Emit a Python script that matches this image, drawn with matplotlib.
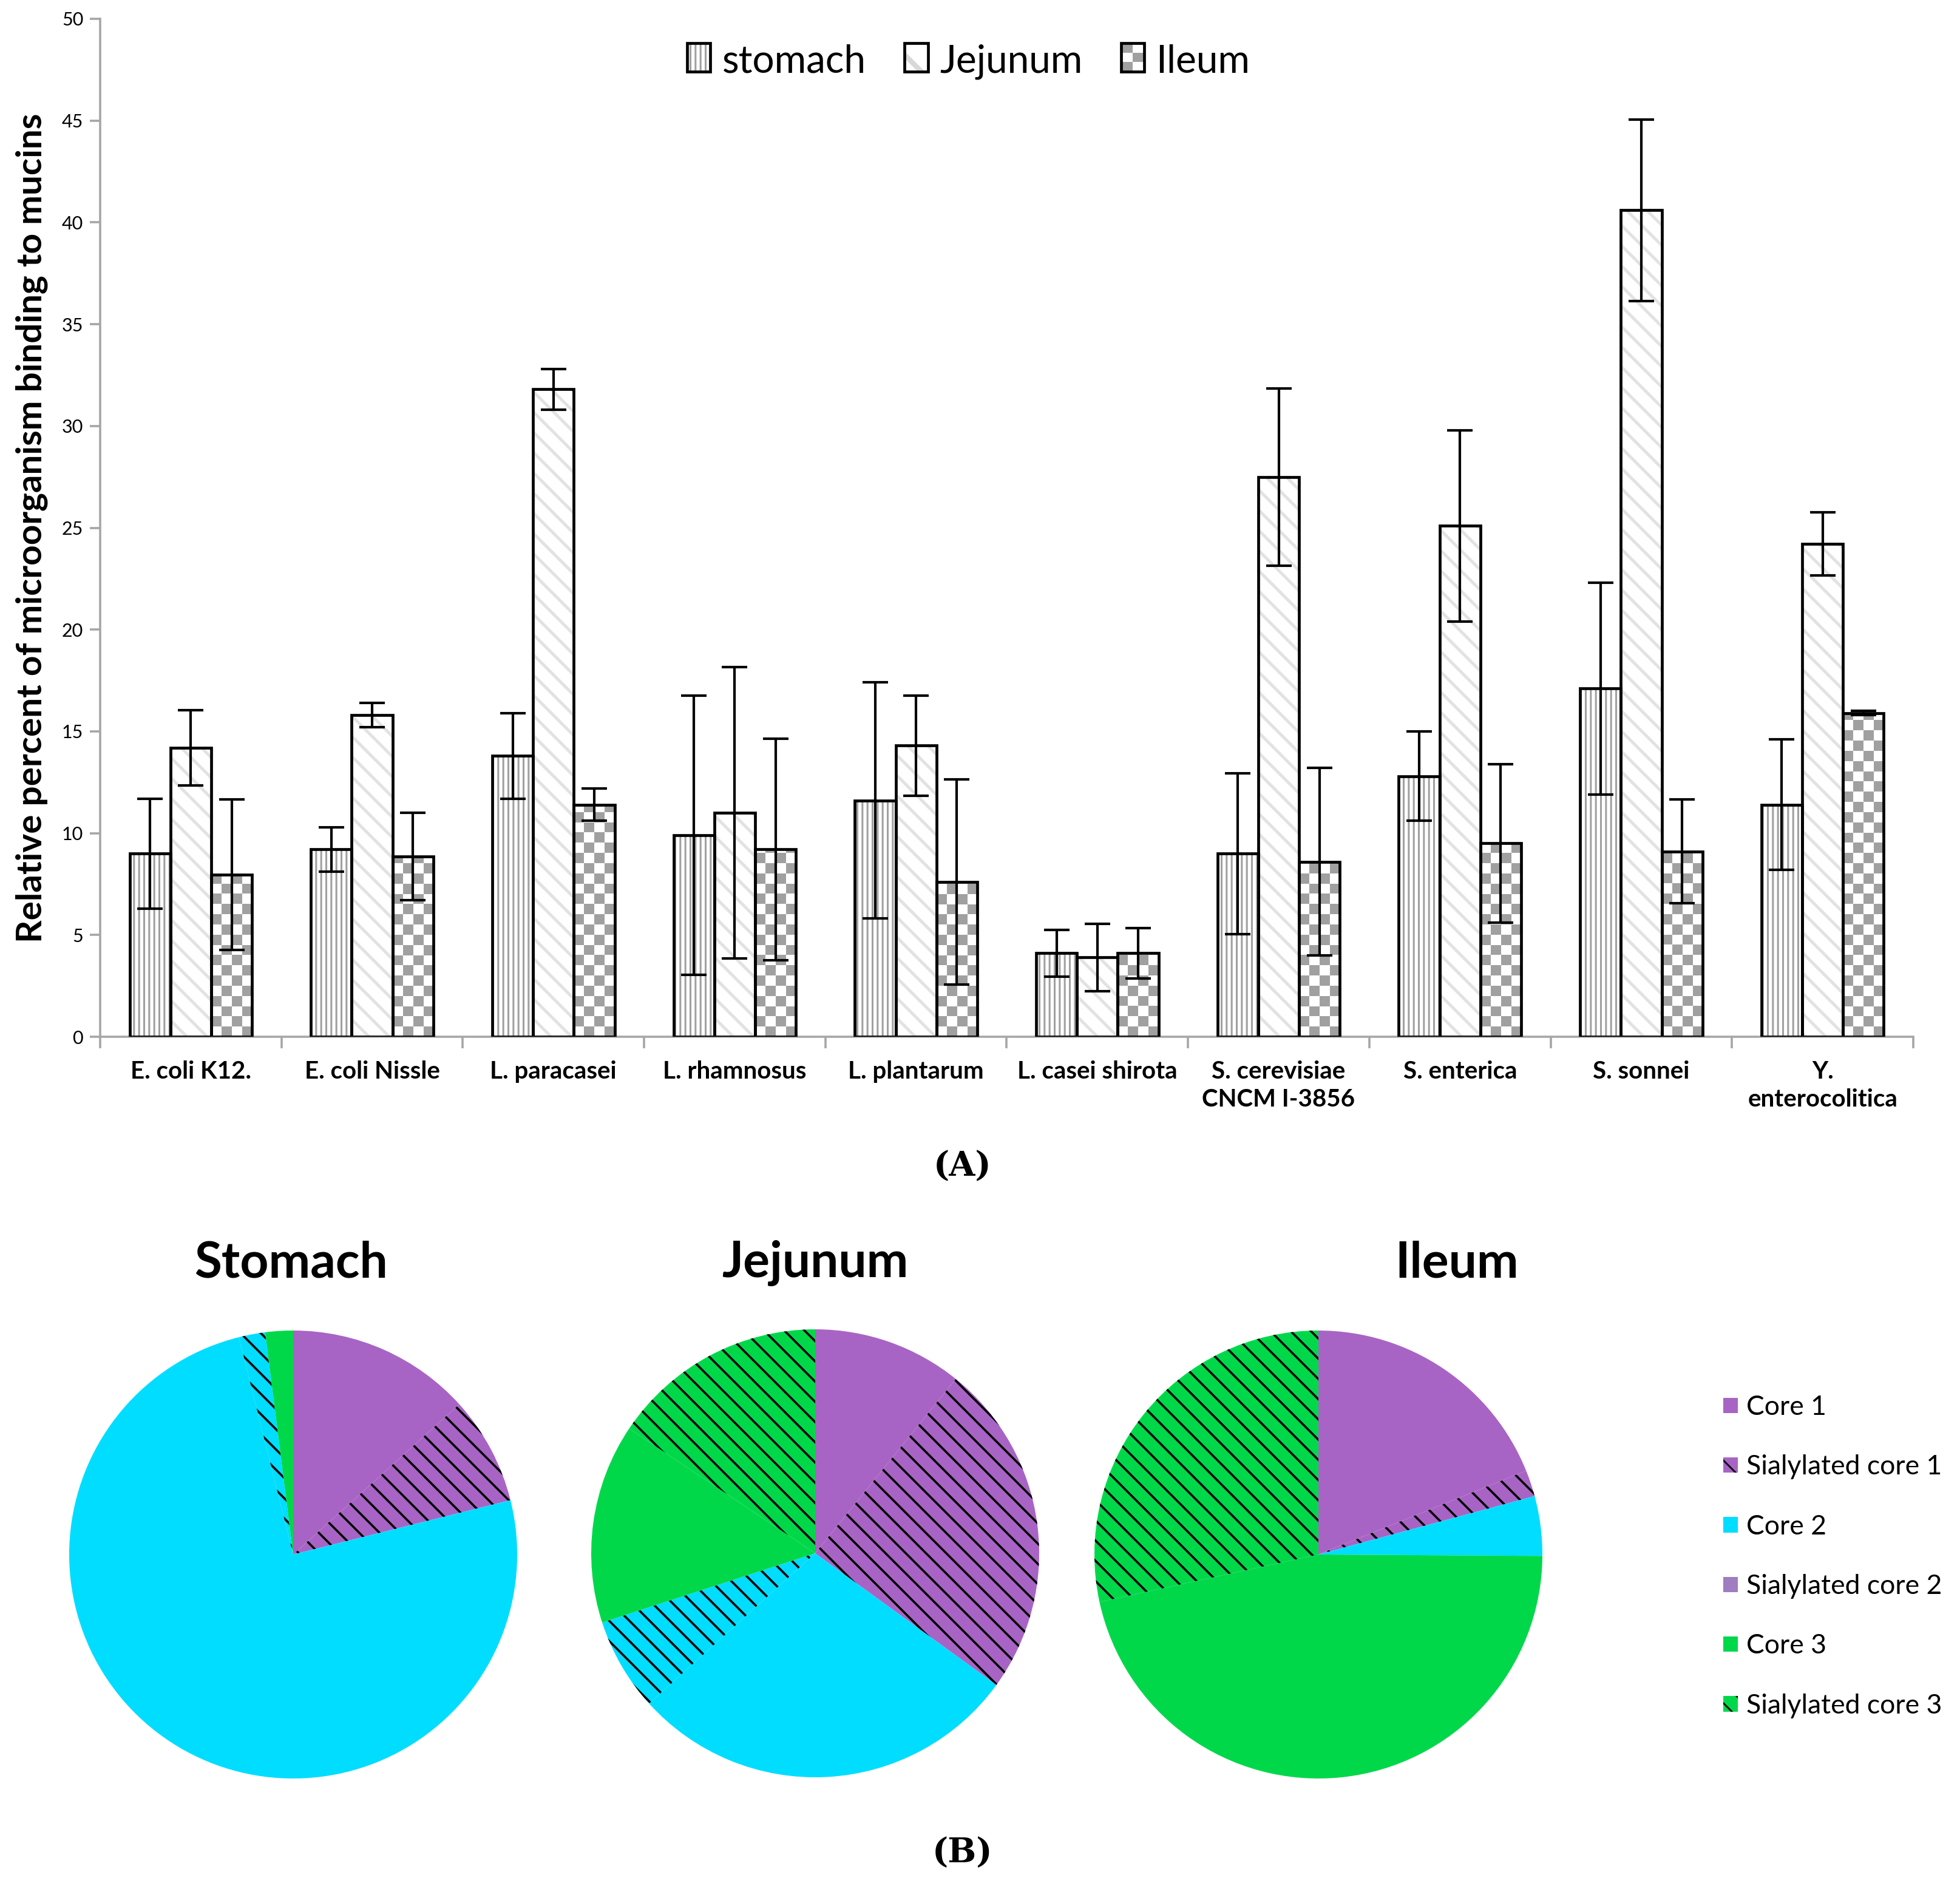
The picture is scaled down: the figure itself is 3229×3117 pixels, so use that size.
import numpy as np
import matplotlib.pyplot as plt
from matplotlib.patches import Patch, Rectangle
from matplotlib.colors import ListedColormap
from matplotlib.legend_handler import HandlerBase

plt.rcParams['font.family'] = ['Lato', 'DejaVu Sans']

# ---- data, panel A
strains = ['E. coli K12.', 'E. coli Nissle', 'L. paracasei', 'L. rhamnosus',
           'L. plantarum', 'L. casei shirota', 'S. cerevisiae\nCNCM I-3856',
           'S. enterica', 'S. sonnei', 'Y.\nenterocolitica']
stomach = [9.0, 9.2, 13.8, 9.9, 11.6, 4.1, 9.0, 12.8, 17.1, 11.4]
stomach_err = [2.7, 1.1, 2.1, 6.85, 5.8, 1.15, 3.95, 2.2, 5.2, 3.2]
jejunum = [14.2, 15.8, 31.8, 11.0, 14.3, 3.9, 27.5, 25.1, 40.6, 24.2]
jejunum_err = [1.85, 0.6, 1.0, 7.15, 2.45, 1.65, 4.35, 4.7, 4.45, 1.55]
ileum = [7.95, 8.85, 11.4, 9.2, 7.6, 4.1, 8.6, 9.5, 9.1, 15.9]
ileum_err = [3.7, 2.15, 0.8, 5.45, 5.05, 1.25, 4.6, 3.9, 2.55, 0.1]
series_names = ['stomach', 'Jejunum', 'Ileum']
yticks = list(range(0, 55, 5))

# ---- data, panel B
core_names = ['Core 1', 'Sialylated core 1', 'Core 2', 'Sialylated core 2',
              'Core 3', 'Sialylated core 3']
tissues = ['Stomach', 'Jejunum', 'Ileum']
stomach_pct = [13.3, 7.8, 75.0, 1.9, 2.0, 0.0]
jejunum_pct = [10.8, 24.2, 28.3, 6.7, 14.4, 15.6]
ileum_pct = [18.9, 1.9, 4.3, 0.0, 46.5, 28.4]

purple = '#a864c4'
cyan = '#00ddff'
green = '#00d84a'
slice_colors = [purple, purple, cyan, cyan, green, green]
slice_hatch = [None, '\\\\', None, '\\\\', None, '\\\\']

W, H = 3230, 3117
fig = plt.figure(figsize=(W / 200, H / 200), dpi=200)

# ================= panel A: bars
ax = fig.add_axes([165 / W, 1 - 1708 / H, (3152 - 165) / W, (1708 - 31) / H])
x = np.arange(len(strains))
bw = 0.225
grey_edge = '#a6a6a6'


def hatch_lw(patches, lw):
    for p in patches:
        if hasattr(p, 'set_hatch_linewidth'):
            p.set_hatch_linewidth(lw)


# stomach: vertical grey lines
with plt.rc_context({'hatch.linewidth': 1.1, 'hatch.color': '#a0a0a0'}):
    b1 = ax.bar(x - bw, stomach, bw, color='white', edgecolor='#a0a0a0',
                linewidth=0, hatch='||||', zorder=2)
hatch_lw(b1, 1.1)
# jejunum: light diagonal lines
with plt.rc_context({'hatch.linewidth': 1.8}):
    b2 = ax.bar(x, jejunum, bw, color='white', edgecolor='#e2e2e2',
                linewidth=0, hatch='\\\\', zorder=2)
hatch_lw(b2, 1.8)
# ileum: checkerboard, drawn as clipped images
b3 = ax.bar(x + bw, ileum, bw, color='white', linewidth=0, zorder=2)

ax.set_xlim(-0.5, len(strains) - 0.5)
ax.set_ylim(0, 50)
ax_h_px = (1708 - 31)
sq = (bw * (3152 - 165) / len(strains) / 4) / (ax_h_px / 50.0)
checker_cmap = ListedColormap(['white', '#a0a0a0'])
for rect in b3:
    h = rect.get_height()
    nrow = int(np.ceil(h / sq))
    arr = (np.add.outer(np.arange(nrow), np.arange(4)) % 2).astype(float)
    x0 = rect.get_x()
    im = ax.imshow(arr, extent=[x0, x0 + bw, 0, nrow * sq], origin='lower',
                   cmap=checker_cmap, vmin=0, vmax=1, interpolation='nearest',
                   aspect='auto', zorder=2.5)
    im.set_clip_path(rect)

# black outlines and error bars
for offs, vals, errs in [(-bw, stomach, stomach_err), (0, jejunum, jejunum_err),
                         (bw, ileum, ileum_err)]:
    ax.bar(x + offs, vals, bw, fill=False, edgecolor='black', linewidth=1.7, zorder=3)
    ax.errorbar(x + offs, vals, yerr=errs, fmt='none', ecolor='black',
                elinewidth=1.5, capsize=7.5, capthick=1.5, zorder=4)

ax.set_xlim(-0.5, len(strains) - 0.5)
ax.set_ylim(0, 50)
ax.set_yticks(yticks)
ax.tick_params(axis='y', labelsize=11, length=6, width=1.3, color=grey_edge, pad=4)
ax.set_xticks(x)
ax.set_xticklabels(strains, fontsize=14.5, fontweight='bold', linespacing=1.3)
ax.tick_params(axis='x', which='major', length=0, pad=14)
ax.set_xticks(np.arange(len(strains) + 1) - 0.5, minor=True)
ax.tick_params(axis='x', which='minor', length=7, width=1.3, color=grey_edge)
for s in ['top', 'right']:
    ax.spines[s].set_visible(False)
for s in ['left', 'bottom']:
    ax.spines[s].set_color(grey_edge)
    ax.spines[s].set_linewidth(1.3)
ax.set_ylabel('Relative percent of microorganism binding to mucins',
              fontsize=21, fontweight='bold', labelpad=8)


class CheckerHandler(HandlerBase):
    def create_artists(self, legend, orig_handle, xd, yd, w, h, fontsize, trans):
        arts = []
        cw, ch = w / 2, h / 3
        for i in range(3):
            for j in range(2):
                fc = '#a0a0a0' if (i + j) % 2 == 0 else 'white'
                arts.append(Rectangle((xd + j * cw, yd + i * ch), cw, ch,
                                      facecolor=fc, edgecolor='none', transform=trans))
        arts.append(Rectangle((xd, yd), w, h, facecolor='none', edgecolor='black',
                              linewidth=1.7, transform=trans))
        return arts


class HatchHandler(HandlerBase):
    def create_artists(self, legend, orig_handle, xd, yd, w, h, fontsize, trans):
        p = Rectangle((xd, yd), w, h, facecolor='white', edgecolor=orig_handle[1],
                      hatch=orig_handle[0], linewidth=0, transform=trans)
        hatch_lw([p], orig_handle[2])
        o = Rectangle((xd, yd), w, h, facecolor='none', edgecolor='black',
                      linewidth=1.7, transform=trans)
        return [p, o]


h_stom = ('||||', '#a0a0a0', 1.1)
h_jej = ('\\', '#d8d8d8', 3.0)
h_ile = 'checker'
ax.legend([h_stom, h_jej, h_ile], series_names, loc='center',
          bbox_to_anchor=(0.479, 0.958), ncol=3, frameon=False, fontsize=23,
          handlelength=0.6, handleheight=0.75, handletextpad=0.3, columnspacing=1.0,
          handler_map={tuple: HatchHandler(), str: CheckerHandler()})

fig.text(1586 / W, 1 - 1922 / H, '(A)', ha='center', va='center', fontsize=20,
         fontweight='bold', family='DejaVu Serif')

# ================= panel B: pies
pie_centers = [(483, 2561), (1343, 2559), (2172, 2561)]
title_x = [480, 1343, 2400]
r = 369
for k, (name, pct) in enumerate(zip(tissues, [stomach_pct, jejunum_pct, ileum_pct])):
    cx, cy = pie_centers[k]
    pax = fig.add_axes([(cx - r) / W, 1 - (cy + r) / H, 2 * r / W, 2 * r / H])
    with plt.rc_context({'hatch.linewidth': 1.3, 'hatch.color': 'black'}):
        wedges, _ = pax.pie(pct, colors=slice_colors, startangle=90,
                            counterclock=False, radius=1)
        for wdg, ht in zip(wedges, slice_hatch):
            if ht:
                wdg.set_hatch(ht)
    hatch_lw([w_ for w_, ht in zip(wedges, slice_hatch) if ht], 1.3)
    pax.set_xlim(-1, 1)
    pax.set_ylim(-1, 1)
    pax.set_position([(cx - r) / W, 1 - (cy + r) / H, 2 * r / W, 2 * r / H])
    fig.text(title_x[k] / W, 1 - 2081 / H, name, ha='center', va='center',
             fontsize=29.5, fontweight='bold')

leg_handles = []
for name, c, ht in zip(core_names, slice_colors, slice_hatch):
    if name == 'Sialylated core 2':
        leg_handles.append(Patch(facecolor='#a07cc0', linewidth=0))
    else:
        leg_handles.append(Patch(facecolor=c, linewidth=0, hatch=ht))
fig.legend(leg_handles, core_names, loc='upper left', bbox_to_anchor=(2839 / W, 1 - 2298 / H),
           frameon=False, fontsize=16, handlelength=0.55, handleheight=0.5,
           handletextpad=0.3, labelspacing=1.29, borderpad=0, borderaxespad=0)

fig.text(1586 / W, 1 - 3053 / H, '(B)', ha='center', va='center', fontsize=20,
         fontweight='bold', family='DejaVu Serif')

fig.savefig('out.png', dpi=200)
